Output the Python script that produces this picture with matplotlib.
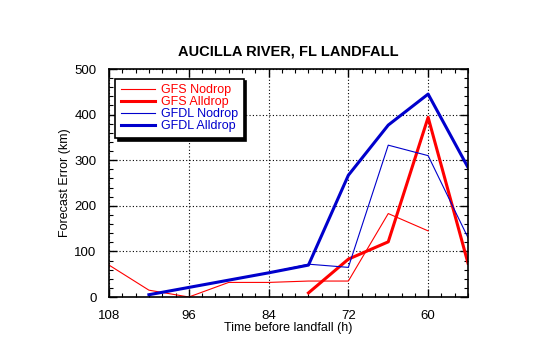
import matplotlib
matplotlib.use("Agg")
import matplotlib.pyplot as plt
from matplotlib.ticker import MultipleLocator

plt.rcParams['font.family'] = ['Liberation Sans', 'DejaVu Sans']

# Forecast hours before landfall and track errors (km)
gfs_nodrop_t = [108, 102, 96, 90, 84, 78, 72, 66, 60]
gfs_nodrop = [70, 15, 0, 32, 32, 35, 35, 183, 145]

gfs_alldrop_t = [78, 72, 66, 60, 54]
gfs_alldrop = [9, 83, 121, 394, 74]

gfdl_nodrop_t = [102, 96, 90, 84, 78, 72, 66, 60, 54]
gfdl_nodrop = [5, 21, 37, 53, 72, 65, 333, 310, 130]

gfdl_alldrop_t = [102, 96, 90, 84, 78, 72, 66, 60, 54]
gfdl_alldrop = [5, 21, 37, 53, 70, 267, 377, 445, 284]

fig = plt.figure(figsize=(5.4, 3.44), dpi=100)
ax = fig.add_axes([0.2019, 0.1366, 0.6648, 0.6628])

ax.plot(gfs_nodrop_t, gfs_nodrop, color='red', lw=0.8, label='GFS Nodrop')
ax.plot(gfs_alldrop_t, gfs_alldrop, color='red', lw=2.2, label='GFS Alldrop')
ax.plot(gfdl_nodrop_t, gfdl_nodrop, color='#0000cc', lw=0.8, label='GFDL Nodrop')
ax.plot(gfdl_alldrop_t, gfdl_alldrop, color='#0000cc', lw=2.2, label='GFDL Alldrop')

ax.set_xlim(108, 54)
ax.set_ylim(0, 500)
ax.xaxis.set_major_locator(MultipleLocator(12))
ax.xaxis.set_minor_locator(MultipleLocator(2))
ax.yaxis.set_major_locator(MultipleLocator(100))
ax.yaxis.set_minor_locator(MultipleLocator(20))
ax.tick_params(which='both', direction='in', top=True, right=True, labelsize=9.5)
ax.tick_params(which='major', length=6, width=1)
ax.tick_params(which='minor', length=3, width=0.8)
ax.tick_params(axis='x', which='major', pad=9)
ax.tick_params(axis='y', which='major', pad=9)
ax.grid(True, which='major', color='black', linestyle=(0, (1, 2)), lw=0.8)
for s in ax.spines.values():
    s.set_linewidth(1.2)

ax.set_title('AUCILLA RIVER, FL LANDFALL', fontsize=10.5, fontweight='bold', pad=10)
ax.set_xlabel('Time before landfall (h)', fontsize=9, labelpad=0)
ax.set_ylabel('Forecast Error (km)', fontsize=9, labelpad=2)

leg = ax.legend(loc='upper left', bbox_to_anchor=(0.0, 0.985), fontsize=9,
                fancybox=False, shadow={'color': 'black', 'alpha': 1},
                handlelength=2.7, handletextpad=0.5, borderpad=0.45,
                labelspacing=0.0, framealpha=1)
leg.get_frame().set_edgecolor('black')
leg.get_frame().set_linewidth(1.2)
for txt, line in zip(leg.get_texts(), leg.get_lines()):
    txt.set_color(line.get_color())

fig.savefig('out.png', dpi=100)
